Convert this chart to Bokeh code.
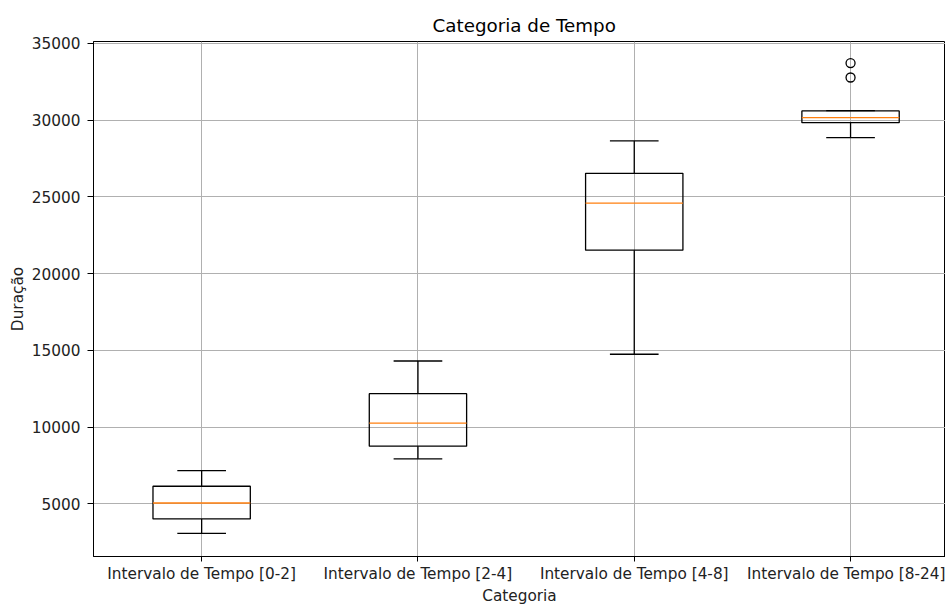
from bokeh.plotting import figure
from bokeh.models import FixedTicker, Range1d, ColumnDataSource
from bokeh.embed import file_html
from bokeh.resources import INLINE

# ---- data ----
categories = ["Intervalo de Tempo [0-2]", "Intervalo de Tempo [2-4]",
              "Intervalo de Tempo [4-8]", "Intervalo de Tempo [8-24]"]
lower_whisker = [3080, 7940, 14750, 28860]
q1 = [4020, 8760, 21530, 29840]
median = [5060, 10260, 24600, 30170]
q3 = [6150, 12180, 26540, 30600]
upper_whisker = [7170, 14310, 28650, 30620]
outlier_category = ["Intervalo de Tempo [8-24]", "Intervalo de Tempo [8-24]"]
outlier_values = [32780, 33720]
y_ticks = [5000, 10000, 15000, 20000, 25000, 30000, 35000]

FONT = "DejaVu Sans"
box_w = 0.45
cap_w = box_w / 2

pos = [i + 1 for i in range(len(categories))]
pos_of = {c: i + 1 for i, c in enumerate(categories)}

src = ColumnDataSource(dict(
    x=pos,
    x0=[x - box_w / 2 for x in pos], x1=[x + box_w / 2 for x in pos],
    c0=[x - cap_w / 2 for x in pos], c1=[x + cap_w / 2 for x in pos],
    lw=lower_whisker, q1=q1, med=median, q3=q3, uw=upper_whisker,
))
out_src = ColumnDataSource(dict(x=[pos_of[c] for c in outlier_category], y=outlier_values))

p = figure(frame_width=852, frame_height=515,
           min_border_left=93, min_border_right=0, min_border_top=41, min_border_bottom=48,
           x_range=Range1d(0.5, 0.5 + 852 / 216.3), y_range=Range1d(1575, 35125),
           output_backend="svg", toolbar_location=None, title="Categoria de Tempo")

p.title.text_font = FONT
p.title.text_font_size = "18.3px"
p.title.text_font_style = "normal"
p.title.align = "left"
p.title.offset = 339
p.title.text_color = "black"
p.title.vertical_align = "middle"

p.outline_line_color = "black"
p.outline_line_width = 1

for ax in (p.xaxis[0], p.yaxis[0]):
    ax.axis_line_color = "black"
    ax.major_tick_line_color = "black"
    ax.major_tick_in = 0
    ax.major_tick_out = 5
    ax.minor_tick_line_color = None
    ax.major_label_text_font = FONT
    ax.major_label_text_font_size = "15.3px"
    ax.major_label_text_color = "#222222"
    ax.axis_label_text_font = FONT
    ax.axis_label_text_font_size = "15.3px"
    ax.axis_label_text_font_style = "normal"
    ax.axis_label_text_color = "#222222"

p.xaxis.ticker = FixedTicker(ticks=pos)
p.xaxis.major_label_overrides = {x: c for x, c in zip(pos, categories)}
p.xaxis.axis_label = "Categoria"
p.xaxis.major_label_standoff = 3
p.xaxis.axis_label_standoff = 1

p.yaxis.ticker = FixedTicker(ticks=y_ticks)
p.yaxis.axis_label = "Duração"
p.yaxis.major_tick_out = 6
p.yaxis.major_label_standoff = 7
p.yaxis.axis_label_standoff = 2

p.xgrid.grid_line_color = "#b0b0b0"
p.ygrid.grid_line_color = "#b0b0b0"
p.xgrid.grid_line_width = 1
p.ygrid.grid_line_width = 1

# whiskers
p.segment(x0="x", y0="q1", x1="x", y1="lw", source=src, line_color="black", line_width=1.3)
p.segment(x0="x", y0="q3", x1="x", y1="uw", source=src, line_color="black", line_width=1.3)
# caps
p.segment(x0="c0", y0="lw", x1="c1", y1="lw", source=src, line_color="black", line_width=1.3)
p.segment(x0="c0", y0="uw", x1="c1", y1="uw", source=src, line_color="black", line_width=1.3)
# boxes
p.quad(left="x0", right="x1", bottom="q1", top="q3", source=src,
       fill_color=None, line_color="black", line_width=1.3)
# medians
p.segment(x0="x0", y0="med", x1="x1", y1="med", source=src, line_color="#ff7f0e", line_width=1.3)
# outliers
p.scatter(x="x", y="y", source=out_src, marker="circle", size=9,
          fill_color=None, line_color="black", line_width=1.3)

open("out.html", "w").write(file_html(p, INLINE))
